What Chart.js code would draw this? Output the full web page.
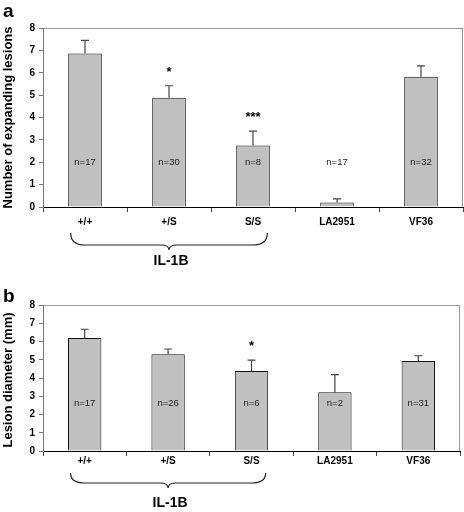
<!DOCTYPE html>
<html>
<head>
<meta charset="utf-8">
<script src="https://cdn.jsdelivr.net/npm/chart.js@4.4.1/dist/chart.umd.min.js"></script>
<style>
  body { margin: 0; background: #fff; }
  canvas { position: absolute; left: 0; }
</style>
</head>
<body>
<canvas id="chartLesions" width="464" height="270" style="top:0"></canvas>
<canvas id="chartDiameter" width="464" height="242" style="top:270px"></canvas>
<script>
// Kateqoriyalar (genotiplər)
const categories = ['+/+', '+/S', 'S/S', 'LA2951', 'VF36'];
const yTicks = [0, 1, 2, 3, 4, 5, 6, 7, 8];

// Panel a: genişlənən lezyonların sayı
const lesionMeans = [6.86, 4.88, 2.75, 0.2, 5.82];
const lesionErrors = [0.59, 0.54, 0.64, 0.16, 0.49];
const lesionN = ['n=17', 'n=30', 'n=8', 'n=17', 'n=32'];
const lesionSig = ['', '*', '***', '', ''];

// Panel b: lezyon diametri (mm)
const diameterMeans = [6.19, 5.30, 4.38, 3.22, 4.93];
const diameterErrors = [0.48, 0.29, 0.60, 0.96, 0.29];
const diameterN = ['n=17', 'n=26', 'n=6', 'n=2', 'n=31'];
const diameterSig = ['', '', '*', '', ''];

const groupLabel = 'IL-1B';
const FONT = 'Arial, "Liberation Sans", sans-serif';

// Error bar, n=, ulduzlar, mötərizə və s. çəkən plugin
const annotatePlugin = {
    id: 'annotate',
    beforeDraw(chart, args, opts) {
        const { ctx, chartArea: a } = chart;
        ctx.save();
        ctx.strokeStyle = '#999';
        ctx.lineWidth = 1;
        ctx.strokeRect(a.left + 0.5, a.top + 0.5, a.right - a.left - 1, a.bottom - a.top);
        ctx.restore();
    },
    afterDatasetsDraw(chart, args, opts) {
        const { ctx, chartArea: a } = chart;
        const x = chart.scales.x;
        const y = chart.scales.y;
        const meta = chart.getDatasetMeta(0);
        const values = chart.data.datasets[0].data;
        ctx.save();

        // Error bar-lar (yalnız yuxarı)
        ctx.strokeStyle = '#444';
        ctx.lineWidth = 1.2;
        meta.data.forEach((bar, i) => {
            const top = y.getPixelForValue(values[i] + opts.errors[i]);
            const base = y.getPixelForValue(values[i]);
            ctx.beginPath();
            ctx.moveTo(bar.x, base);
            ctx.lineTo(bar.x, top);
            ctx.moveTo(bar.x - 4, top);
            ctx.lineTo(bar.x + 4, top);
            ctx.stroke();

            // Əhəmiyyətlilik ulduzları
            if (opts.sig[i]) {
                ctx.fillStyle = '#000';
                ctx.font = 'bold 13px ' + FONT;
                ctx.textAlign = 'center';
                ctx.textBaseline = 'alphabetic';
                ctx.fillText(opts.sig[i], bar.x, top - 10);
            }

            // n= etiketləri
            ctx.fillStyle = '#222';
            ctx.font = '9.5px ' + FONT;
            ctx.textAlign = 'center';
            ctx.textBaseline = 'middle';
            ctx.fillText(opts.nLabels[i], bar.x, y.getPixelForValue(opts.nAt));
        });

        // Y oxunun başlığı
        ctx.save();
        ctx.translate(8, (a.top + a.bottom) / 2 + opts.titleShift);
        ctx.rotate(-Math.PI / 2);
        ctx.fillStyle = '#000';
        ctx.font = 'bold 13px ' + FONT;
        ctx.textAlign = 'center';
        ctx.textBaseline = 'middle';
        ctx.fillText(opts.title, 0, 0);
        ctx.restore();

        // Panel hərfi
        ctx.fillStyle = '#000';
        ctx.font = 'bold 19px ' + FONT;
        ctx.textAlign = 'left';
        ctx.textBaseline = 'alphabetic';
        ctx.fillText(opts.letter, 3, opts.letterY);

        // Mötərizə (IL-1B qrupu)
        const cat = x.getPixelForValue(1) - x.getPixelForValue(0);
        const xm = x.getPixelForValue(1);
        const x0 = xm - 1.17 * cat;
        const x1 = xm + 1.17 * cat;
        const yTop = a.bottom + opts.brace[0];
        const yLine = a.bottom + opts.brace[1];
        const yTip = a.bottom + opts.brace[2];
        ctx.strokeStyle = '#222';
        ctx.lineWidth = 1.2;
        ctx.beginPath();
        ctx.moveTo(x0, yTop);
        ctx.quadraticCurveTo(x0, yLine, x0 + 14, yLine);
        ctx.lineTo(xm - 8, yLine);
        ctx.quadraticCurveTo(xm, yLine, xm, yTip);
        ctx.quadraticCurveTo(xm, yLine, xm + 8, yLine);
        ctx.lineTo(x1 - 14, yLine);
        ctx.quadraticCurveTo(x1, yLine, x1, yTop);
        ctx.stroke();

        ctx.fillStyle = '#000';
        ctx.font = 'bold 14px ' + FONT;
        ctx.textAlign = 'center';
        ctx.textBaseline = 'middle';
        ctx.fillText(groupLabel, xm + 2, a.bottom + opts.brace[3]);
        ctx.restore();
    }
};

function makeChart(el, means, cfg) {
    return new Chart(el, {
        type: 'bar',
        data: {
            labels: categories,
            datasets: [{
                data: means,
                backgroundColor: '#c0c0c0',
                borderColor: '#111',
                borderWidth: 1,
                borderSkipped: 'bottom',
                barPercentage: 0.4,
                categoryPercentage: 1
            }]
        },
        options: {
            responsive: false,
            animation: false,
            layout: { padding: { top: cfg.top, right: cfg.right, left: 0, bottom: 0 } },
            plugins: {
                legend: { display: false },
                tooltip: { enabled: false },
                annotate: cfg.annotate
            },
            scales: {
                x: {
                    offset: true,
                    grid: { display: true, offset: true, drawOnChartArea: false, tickLength: 5, color: '#444' },
                    border: { color: '#000', width: 1 },
                    ticks: { color: '#000', font: { family: FONT, size: 10, weight: 'bold' }, padding: cfg.xPad },
                    afterFit: (s) => { s.height = cfg.xHeight; }
                },
                y: {
                    min: 0,
                    max: 8,
                    afterBuildTicks: (s) => { s.ticks = yTicks.map(v => ({ value: v })); },
                    grid: { display: true, drawOnChartArea: false, tickLength: 4, color: '#777' },
                    border: { color: '#777', width: 1 },
                    ticks: { color: '#000', font: { family: FONT, size: 10, weight: 'bold' }, padding: 4 },
                    afterFit: (s) => { s.width = 43; }
                }
            }
        },
        plugins: [annotatePlugin]
    });
}

makeChart(document.getElementById('chartLesions'), lesionMeans, {
    top: 28, right: 1, xHeight: 63, xPad: 4,
    annotate: {
        errors: lesionErrors, nLabels: lesionN, sig: lesionSig, nAt: 2,
        title: 'Number of expanding lesions', titleShift: 0,
        letter: 'a', letterY: 17,
        brace: [26, 38, 43, 54]
    }
});

makeChart(document.getElementById('chartDiameter'), diameterMeans, {
    top: 35, right: 4, xHeight: 61, xPad: -1,
    annotate: {
        errors: diameterErrors, nLabels: diameterN, sig: diameterSig, nAt: 2.6,
        title: 'Lesion diameter (mm)', titleShift: 2,
        letter: 'b', letterY: 32,
        brace: [22, 32, 37, 52]
    }
});
</script>
</body>
</html>
